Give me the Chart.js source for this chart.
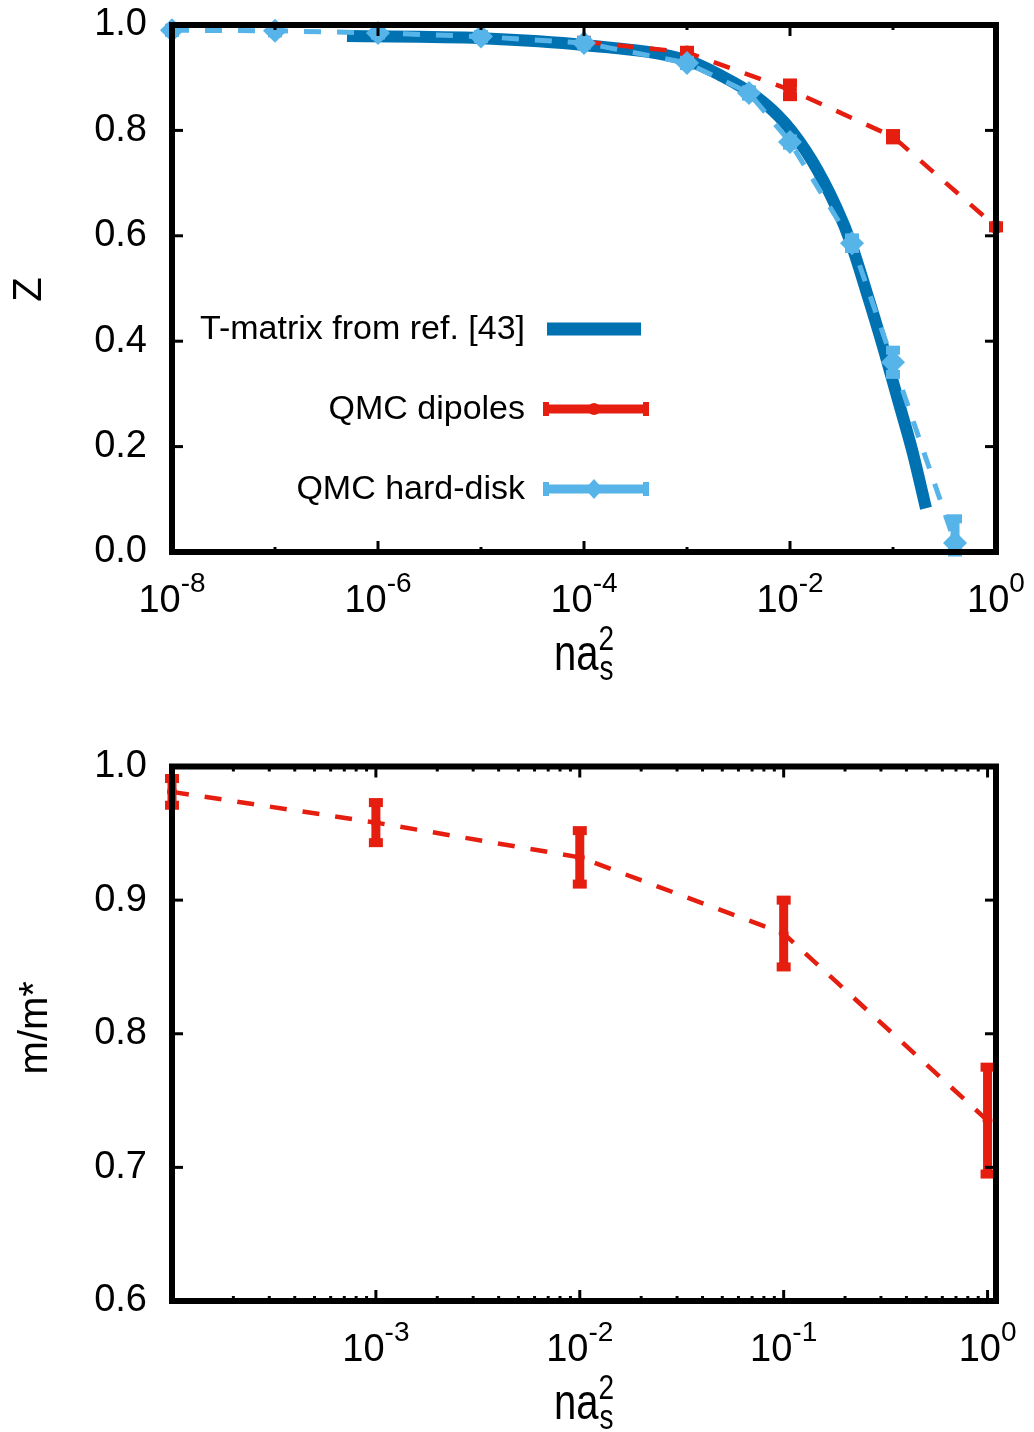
<!DOCTYPE html>
<html>
<head>
<meta charset="utf-8">
<title>Quasiparticle residue and effective mass</title>
<script src="https://cdn.jsdelivr.net/npm/chart.js@4.4.1/dist/chart.umd.min.js"></script>
<style>
  html, body { margin: 0; padding: 0; background: #fff; }
  #wrap { position: relative; width: 1034px; height: 1432px; }
  canvas { position: absolute; left: 0; }
</style>
</head>
<body>
<div id="wrap">
  <canvas id="zChart" width="1034" height="716" style="top:0"></canvas>
  <canvas id="mChart" width="1034" height="716" style="top:716px"></canvas>
</div>
<script>
// ---- Quasiparticle residue Z versus na_s^2 ----
// T-matrix result
const tmatrixDensity = [5.0e-7, 1e-5, 1e-4, 1e-3, 2.09e-3, 4.79e-3, 8.93e-3, 1.64e-2, 2.80e-2, 3.91e-2, 5.85e-2, 8.18e-2, 0.112, 0.153, 0.209];
const tmatrixZ       = [0.979, 0.975, 0.962, 0.933, 0.905, 0.863, 0.814, 0.742, 0.655, 0.586, 0.478, 0.383, 0.288, 0.194, 0.083];

// QMC, dipolar interaction
const dipoleDensity = [1e-4, 1e-3, 1e-2, 1e-1, 1];
const dipoleZ       = [0.968, 0.948, 0.877, 0.788, 0.617];
const dipoleZErr    = [0.003, 0.004, 0.013, 0.006, 0.002];

// QMC, hard-disk interaction
const hardDiskDensity = [1e-8, 1e-7, 1e-6, 1e-5, 1e-4, 1e-3, 4e-3, 1e-2, 4e-2, 1e-1, 4e-1];
const hardDiskZ       = [0.990, 0.989, 0.985, 0.978, 0.966, 0.928, 0.871, 0.778, 0.586, 0.360, 0.017];
const hardDiskZErr    = [0.004, 0.004, 0.004, 0.004, 0.004, 0.005, 0.006, 0.006, 0.010, 0.023, 0.046];

// ---- Effective mass ratio m/m* versus na_s^2 (dipoles) ----
const massDensity  = [1e-4, 1e-3, 1e-2, 1e-1, 1];
const massRatio    = [0.981, 0.958, 0.932, 0.875, 0.735];
const massRatioErr = [0.010, 0.015, 0.020, 0.025, 0.040];

// Axis ticks
const zYTicks = [0, 0.2, 0.4, 0.6, 0.8, 1.0];
const zXLabelExponents = [-8, -6, -4, -2, 0];
const zXMinorExponents = [-7, -5, -3, -1];
const mYTicks = [0.6, 0.7, 0.8, 0.9, 1.0];
const mXLabelExponents = [-3, -2, -1, 0];
const mXMinorDecades = [-4, -3, -2, -1];

const legendLabels = ['T-matrix from ref. [43]', 'QMC dipoles', 'QMC hard-disk'];

const RED = '#e51e10', LIGHT = '#56b4e9', DARK = '#0072b2';
const FONT = "'Liberation Sans', Arial, Helvetica, sans-serif";
Chart.defaults.font.family = FONT;
Chart.defaults.color = '#000';

function points(xs, ys) { return xs.map((x, i) => ({ x: x, y: ys[i] })); }

function hline(ctx, x1, y1, x2, y2) {
  ctx.beginPath(); ctx.moveTo(x1, y1); ctx.lineTo(x2, y2); ctx.stroke();
}

// Error bars with block caps, drawn under each dataset's markers
function drawErrorBars(chart, ds) {
  if (!ds.errors) return;
  const ctx = chart.ctx, xs = chart.scales.x, ys = chart.scales.y;
  ctx.save();
  ctx.fillStyle = ds.borderColor;
  ds.data.forEach((p, i) => {
    const e = ds.errors[i];
    const px = xs.getPixelForValue(p.x);
    const top = ys.getPixelForValue(Math.min(p.y + e, ys.max));
    const bot = ys.getPixelForValue(Math.max(p.y - e, ys.min));
    ctx.fillRect(px - 4.5, top, 9, bot - top);
    ctx.fillRect(px - 7, top - 4.5, 14, 9);
    ctx.fillRect(px - 7, bot - 4.5, 14, 9);
  });
  ctx.restore();
}

// Inward tick marks and the heavy border
function drawFrame(chart, frame) {
  const ctx = chart.ctx, a = chart.chartArea, xs = chart.scales.x, ys = chart.scales.y;
  ctx.save();
  ctx.strokeStyle = '#000';
  ctx.lineWidth = 3;
  ctx.lineCap = 'butt';
  const xTick = (v, len) => {
    const px = xs.getPixelForValue(v);
    hline(ctx, px, a.bottom, px, a.bottom - len);
    hline(ctx, px, a.top, px, a.top + len);
  };
  frame.xMajor.forEach(v => xTick(v, 11));
  frame.xMinor.forEach(v => xTick(v, 5));
  frame.yTicks.forEach(v => {
    const py = ys.getPixelForValue(v);
    hline(ctx, a.left, py, a.left + 11, py);
    hline(ctx, a.right, py, a.right - 11, py);
  });
  ctx.lineWidth = 6;
  ctx.lineJoin = 'miter';
  ctx.strokeRect(a.left, a.top, a.right - a.left, a.bottom - a.top);
  ctx.restore();
}

// "10" with a raised exponent, centred on each decade
function drawPowerLabels(chart, exps, offset) {
  const ctx = chart.ctx, xs = chart.scales.x, a = chart.chartArea;
  ctx.save();
  ctx.fillStyle = '#000';
  ctx.textBaseline = 'alphabetic';
  ctx.textAlign = 'left';
  exps.forEach(k => {
    const px = xs.getPixelForValue(Math.pow(10, k));
    const base = '10', sup = String(k);
    ctx.font = '38px ' + FONT;
    const w1 = ctx.measureText(base).width;
    ctx.font = '28px ' + FONT;
    const w2 = ctx.measureText(sup).width;
    const x0 = px - (w1 + w2) / 2;
    const y0 = a.bottom + offset;
    ctx.font = '38px ' + FONT;
    ctx.fillText(base, x0, y0);
    ctx.font = '28px ' + FONT;
    ctx.fillText(sup, x0 + w1, y0 - 20);
  });
  ctx.restore();
}

// x-axis title: n a_s^2
function drawDensityTitle(chart, cx, baseline) {
  const ctx = chart.ctx;
  ctx.save();
  ctx.fillStyle = '#000';
  ctx.textAlign = 'left';
  ctx.textBaseline = 'alphabetic';
  ctx.font = '40px ' + FONT;
  const w1 = ctx.measureText('na').width;
  ctx.font = '28px ' + FONT;
  const w2 = ctx.measureText('2').width;
  const x0 = cx - (w1 + w2) / 2;
  ctx.translate(x0, baseline);
  ctx.scale(1, 1.25);
  ctx.font = '40px ' + FONT;
  ctx.fillText('na', 0, 0);
  ctx.font = '28px ' + FONT;
  ctx.fillText('2', w1, -16);
  ctx.fillText('s', w1 + 1, 8);
  ctx.restore();
}

function drawYTitle(chart, text, cx, cy) {
  const ctx = chart.ctx;
  ctx.save();
  ctx.fillStyle = '#000';
  ctx.font = '40px ' + FONT;
  ctx.textAlign = 'center';
  ctx.textBaseline = 'middle';
  ctx.translate(cx, cy);
  ctx.rotate(-Math.PI / 2);
  ctx.fillText(text, 0, 0);
  ctx.restore();
}

// Key in gnuplot style: right-aligned text, sample to its right
function drawKey(chart) {
  const ctx = chart.ctx;
  const ds = chart.data.datasets;
  const rows = [329, 409, 489];
  const textRight = 525, s0 = 545, s1 = 645, mid = 594;
  ctx.save();
  ctx.font = '34px ' + FONT;
  ctx.fillStyle = '#000';
  ctx.textAlign = 'right';
  ctx.textBaseline = 'middle';
  legendLabels.forEach((lab, i) => ctx.fillText(lab, textRight, rows[i] + 1));

  // T-matrix sample
  ctx.strokeStyle = ds[0].borderColor;
  ctx.lineWidth = 13;
  hline(ctx, s0 + 2, rows[0], s1 - 4, rows[0]);

  // QMC samples with error caps
  [1, 2].forEach(i => {
    const y = rows[i], c = ds[i].borderColor;
    ctx.strokeStyle = c; ctx.fillStyle = c;
    ctx.lineWidth = 9;
    hline(ctx, s0, y, s1 + 2, y);
    ctx.fillRect(s0 - 2, y - 7, 6, 14);
    ctx.fillRect(s1 - 2, y - 7, 6, 14);
    ctx.beginPath();
    if (i === 1) {
      ctx.arc(mid, y, 6, 0, Math.PI * 2);
    } else {
      ctx.moveTo(mid - 9, y); ctx.lineTo(mid, y - 10); ctx.lineTo(mid + 9, y); ctx.lineTo(mid, y + 10);
      ctx.closePath();
    }
    ctx.fill();
  });
  ctx.restore();
}

const decorations = {
  id: 'decorations',
  beforeDatasetDraw(chart, args) {
    drawErrorBars(chart, chart.data.datasets[args.index]);
  },
  afterDatasetsDraw(chart, args, opts) {
    drawFrame(chart, opts.frame);
  },
  afterDraw(chart, args, opts) {
    drawPowerLabels(chart, opts.xLabels, 60);
    drawDensityTitle(chart, 584, chart.chartArea.bottom + opts.titleOffset);
    drawYTitle(chart, opts.yTitle, opts.yTitleX, (chart.chartArea.top + chart.chartArea.bottom) / 2 + opts.yTitleShift);
    if (opts.key) drawKey(chart);
  }
};

function baseScales(yMin, yMax, yTicks, xMin, xMax, xHeight) {
  return {
    x: {
      type: 'logarithmic', min: xMin, max: xMax,
      ticks: { display: false },
      grid: { display: false, drawTicks: false },
      border: { display: false },
      afterFit: s => {
        s.height = xHeight;
        s.paddingLeft = 0; s.paddingRight = 0; s.paddingTop = 0; s.paddingBottom = 0;
      }
    },
    y: {
      type: 'linear', min: yMin, max: yMax,
      afterBuildTicks: s => { s.ticks = yTicks.map(v => ({ value: v })); },
      ticks: { callback: v => v.toFixed(1), font: { size: 38 }, color: '#000', padding: 25 },
      grid: { display: false, drawTicks: false },
      border: { display: false },
      afterFit: s => {
        s.width = 172;
        s.paddingLeft = 0; s.paddingRight = 0; s.paddingTop = 0; s.paddingBottom = 0;
      }
    }
  };
}

const commonOpts = {
  responsive: false,
  animation: false,
  devicePixelRatio: 1,
  events: []
};

new Chart(document.getElementById('zChart'), {
  type: 'line',
  data: {
    datasets: [
      {
        label: legendLabels[0],
        data: points(tmatrixDensity, tmatrixZ),
        borderColor: DARK, borderWidth: 12, borderCapStyle: 'butt',
        pointRadius: 0, cubicInterpolationMode: 'monotone', fill: false, order: 3
      },
      {
        label: legendLabels[1],
        data: points(dipoleDensity, dipoleZ),
        errors: dipoleZErr,
        borderColor: RED, backgroundColor: RED, borderWidth: 4.5, borderDash: [17, 16],
        pointRadius: 7, pointBorderWidth: 0, pointBackgroundColor: RED,
        tension: 0, fill: false, clip: false, order: 2
      },
      {
        label: legendLabels[2],
        data: points(hardDiskDensity, hardDiskZ),
        errors: hardDiskZErr,
        borderColor: LIGHT, backgroundColor: LIGHT, borderWidth: 5, borderDash: [17, 16],
        pointStyle: 'rectRot', pointRadius: 12, pointBorderWidth: 0, pointBackgroundColor: LIGHT,
        tension: 0, fill: false, clip: false, order: 1
      }
    ]
  },
  options: Object.assign({}, commonOpts, {
    layout: { padding: { left: 0, top: 25, right: 38, bottom: 0 } },
    scales: baseScales(0, 1, zYTicks, 1e-8, 1, 164),
    plugins: {
      legend: { display: false },
      tooltip: { enabled: false },
      decorations: {
        frame: {
          xMajor: zXLabelExponents.map(k => Math.pow(10, k)),
          xMinor: zXMinorExponents.map(k => Math.pow(10, k)),
          yTicks: zYTicks
        },
        xLabels: zXLabelExponents,
        titleOffset: 118,
        yTitle: 'Z', yTitleX: 30, yTitleShift: 1,
        key: true
      }
    }
  }),
  plugins: [decorations]
});

const mMinor = [];
mXMinorDecades.forEach(d => { for (let m = 2; m <= 9; m++) mMinor.push(m * Math.pow(10, d)); });

new Chart(document.getElementById('mChart'), {
  type: 'line',
  data: {
    datasets: [
      {
        label: 'QMC dipoles',
        data: points(massDensity, massRatio),
        errors: massRatioErr,
        borderColor: RED, backgroundColor: RED, borderWidth: 4.5, borderDash: [17, 16],
        pointRadius: 5, pointBorderWidth: 0, pointBackgroundColor: RED,
        tension: 0, fill: false, clip: false
      }
    ]
  },
  options: Object.assign({}, commonOpts, {
    layout: { padding: { left: 0, top: 50.5, right: 38, bottom: 0 } },
    scales: baseScales(0.6, 1.0, mYTicks, 1e-4, 1.1, 131),
    plugins: {
      legend: { display: false },
      tooltip: { enabled: false },
      decorations: {
        frame: {
          xMajor: mXLabelExponents.map(k => Math.pow(10, k)),
          xMinor: mMinor,
          yTicks: mYTicks
        },
        xLabels: mXLabelExponents,
        titleOffset: 118,
        yTitle: 'm/m*', yTitleX: 36, yTitleShift: -6,
        key: false
      }
    }
  }),
  plugins: [decorations]
});
</script>
</body>
</html>
